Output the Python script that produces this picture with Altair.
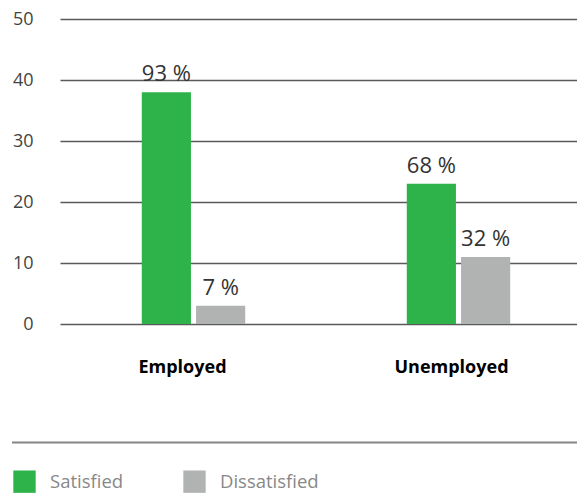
import altair as alt
import pandas as pd

groups = ["Employed", "Employed", "Unemployed", "Unemployed"]
series = ["Satisfied", "Dissatisfied", "Satisfied", "Dissatisfied"]
values = [38, 3, 23, 11]
shares = [93, 7, 68, 32]
y_ticks = [0, 10, 20, 30, 40, 50]
categories = ["Employed", "Unemployed"]
series_names = ["Satisfied", "Dissatisfied"]
series_colors = ["#2db34a", "#b1b3b3"]

df = pd.DataFrame({"group": groups, "series": series, "value": values, "share": shares})
df["label"] = df["share"].astype(str) + " %"

x = alt.X(
    "group:N",
    sort=categories,
    title=None,
    scale=alt.Scale(paddingInner=0.2, paddingOuter=0.0755, align=0.6875),
    axis=alt.Axis(
        labelAngle=0, domain=False, ticks=False,
        labelFont="Open Sans", labelFontWeight="bold", labelFontSize=18,
        labelColor="#000000", labelPadding=34, labelBaseline="top",
        labelOffset={"condition": {"test": "datum.value === 'Employed'", "value": -11}, "value": -7},
    ),
)
xo = alt.XOffset("series:N", sort=series_names,
                 scale=alt.Scale(paddingInner=0.0943, paddingOuter=1))
y = alt.Y(
    "value:Q",
    title=None,
    scale=alt.Scale(domain=[0, 50]),
    axis=alt.Axis(
        values=y_ticks, domain=False, ticks=False, grid=True,
        gridColor="#5a5a5a", gridWidth=1.5,
        labelFont="Open Sans", labelFontSize=18, labelColor="#444444",
        labelPadding=27,
    ),
)

color = alt.Color(
    "series:N",
    sort=series_names,
    scale=alt.Scale(domain=series_names, range=series_colors),
    legend=alt.Legend(
        title=None, orient="none", legendX=-47, legendY=451,
        direction="horizontal", symbolType="square", symbolSize=500,
        symbolStrokeWidth=0, symbolOpacity=1,
        labelFont="Open Sans", labelFontSize=18.5, labelColor="#888888",
        labelOffset=14, columnPadding=59, padding=0,
    ),
)

bars = alt.Chart(df).mark_bar().encode(x=x, xOffset=xo, y=y, color=color)

text = alt.Chart(df).mark_text(
    dy=-11, baseline="alphabetic", fontSize=22, font="Open Sans", color="#333333"
).encode(x=x, xOffset=xo, y=y, text="label:N")

rule = alt.Chart(pd.DataFrame({"a": [0]})).mark_rule(
    color="#858585", strokeWidth=2
).encode(x=alt.value(-48), x2=alt.value(517), y=alt.value(423.6))

chart = alt.layer(bars, text, rule).properties(
    width=517,
    height=305,
    padding={"left": 52, "top": 11, "right": 0, "bottom": 185},
    autosize=alt.AutoSizeParams(type="none"),
).configure_view(strokeWidth=0)

chart.save("out.html", embed_options={"renderer": "svg", "actions": False})
